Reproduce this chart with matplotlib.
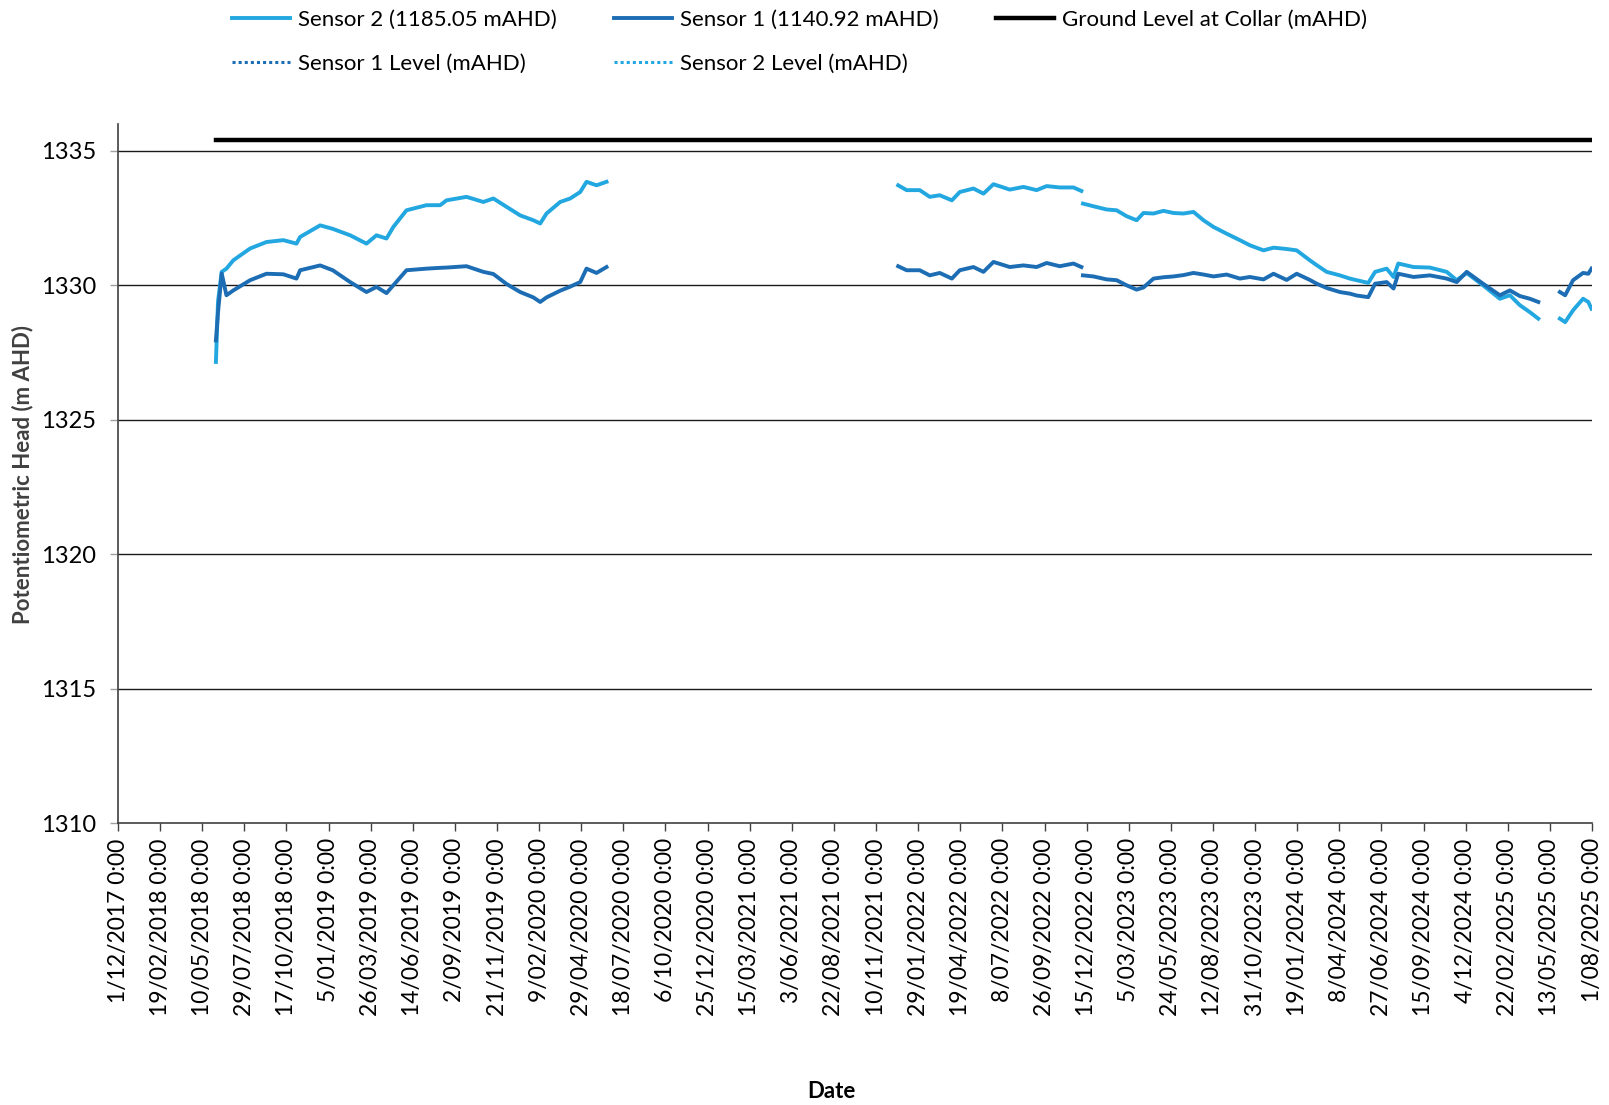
import matplotlib
matplotlib.use("Agg")
import matplotlib.pyplot as plt
import numpy as np
import pandas as pd

plt.rcParams['font.family'] = ['Lato', 'DejaVu Sans']

# ---- logger record (segments separated by data gaps) ----
dates_seg1 = ["2018-06-05", "2018-06-09", "2018-06-16", "2018-06-25", "2018-07-08",
              "2018-08-09", "2018-09-09", "2018-10-11", "2018-11-05", "2018-11-12",
              "2018-12-20", "2019-01-13", "2019-02-15", "2019-03-18", "2019-04-06",
              "2019-04-25", "2019-05-08", "2019-06-02", "2019-07-10", "2019-08-05",
              "2019-08-17", "2019-09-24", "2019-10-26", "2019-11-14", "2019-12-09",
              "2020-01-04", "2020-01-29", "2020-02-11", "2020-02-23", "2020-03-20",
              "2020-04-08", "2020-04-27", "2020-05-09", "2020-05-28", "2020-06-16"]
sensor2_seg1 = [1327.15, 1329.40, 1330.50, 1330.62, 1330.93,
                1331.37, 1331.61, 1331.68, 1331.55, 1331.80,
                1332.23, 1332.10, 1331.86, 1331.55, 1331.86,
                1331.74, 1332.17, 1332.79, 1332.98, 1332.98,
                1333.16, 1333.29, 1333.10, 1333.23, 1332.92,
                1332.60, 1332.42, 1332.30, 1332.67, 1333.10,
                1333.23, 1333.47, 1333.85, 1333.72, 1333.85]
sensor1_seg1 = [1327.95, 1329.00, 1330.44, 1329.63, 1329.81,
                1330.19, 1330.43, 1330.41, 1330.25, 1330.56,
                1330.74, 1330.56, 1330.12, 1329.75, 1329.94,
                1329.71, 1330.00, 1330.56, 1330.62, 1330.65,
                1330.66, 1330.71, 1330.50, 1330.42, 1330.05,
                1329.75, 1329.55, 1329.38, 1329.55, 1329.80,
                1329.95, 1330.12, 1330.62, 1330.46, 1330.68]

dates_seg2 = ["2021-12-22", "2022-01-07", "2022-02-01", "2022-02-20", "2022-03-11",
              "2022-04-03", "2022-04-18", "2022-05-14", "2022-06-02", "2022-06-21",
              "2022-07-22", "2022-08-17", "2022-09-11", "2022-09-30", "2022-10-25",
              "2022-11-20", "2022-12-05"]
sensor2_seg2 = [1333.72, 1333.54, 1333.54, 1333.29, 1333.35,
                1333.16, 1333.47, 1333.60, 1333.41, 1333.76,
                1333.56, 1333.66, 1333.54, 1333.69, 1333.64,
                1333.64, 1333.51]
sensor1_seg2 = [1330.71, 1330.56, 1330.56, 1330.37, 1330.46,
                1330.25, 1330.56, 1330.68, 1330.50, 1330.87,
                1330.68, 1330.74, 1330.68, 1330.83, 1330.71,
                1330.81, 1330.68]

dates_seg3 = ["2022-12-08", "2022-12-28", "2023-01-22", "2023-02-10", "2023-03-01",
              "2023-03-20", "2023-04-02", "2023-04-21", "2023-05-10", "2023-05-29",
              "2023-06-17", "2023-07-06", "2023-07-25", "2023-08-13", "2023-09-07",
              "2023-10-02", "2023-10-21", "2023-11-16", "2023-12-05", "2023-12-30",
              "2024-01-18", "2024-02-12", "2024-02-25", "2024-03-15", "2024-04-09",
              "2024-04-28", "2024-05-11", "2024-06-02", "2024-06-15", "2024-07-07",
              "2024-07-20", "2024-07-29", "2024-08-27", "2024-09-27", "2024-10-29",
              "2024-11-17", "2024-12-06", "2025-01-06", "2025-02-07", "2025-02-26",
              "2025-03-17", "2025-04-05", "2025-04-21"]
sensor2_seg3 = [1333.04, 1332.94, 1332.82, 1332.79, 1332.57,
                1332.42, 1332.69, 1332.67, 1332.77, 1332.69,
                1332.67, 1332.73, 1332.42, 1332.17, 1331.92,
                1331.68, 1331.49, 1331.30, 1331.40, 1331.35,
                1331.30, 1330.93, 1330.75, 1330.50, 1330.37,
                1330.25, 1330.19, 1330.09, 1330.50, 1330.62,
                1330.31, 1330.81, 1330.68, 1330.66, 1330.50,
                1330.19, 1330.46, 1330.00, 1329.50, 1329.63,
                1329.26, 1329.00, 1328.76]
sensor1_seg3 = [1330.37, 1330.33, 1330.22, 1330.19, 1330.00,
                1329.84, 1329.92, 1330.25, 1330.30, 1330.33,
                1330.38, 1330.46, 1330.40, 1330.33, 1330.40,
                1330.25, 1330.31, 1330.22, 1330.43, 1330.20,
                1330.43, 1330.20, 1330.06, 1329.90, 1329.75,
                1329.69, 1329.62, 1329.56, 1330.06, 1330.12,
                1329.88, 1330.43, 1330.31, 1330.37, 1330.25,
                1330.12, 1330.50, 1330.06, 1329.63, 1329.81,
                1329.60, 1329.50, 1329.38]

dates_seg4 = ["2025-06-01", "2025-06-11", "2025-06-26", "2025-07-15", "2025-07-25",
              "2025-07-31"]
sensor2_seg4 = [1328.76, 1328.63, 1329.07, 1329.50, 1329.38, 1329.13]
sensor1_seg4 = [1329.75, 1329.63, 1330.19, 1330.46, 1330.43, 1330.62]

# ground level at the collar and sensor install levels
ground_dates = ["2018-06-05", "2025-08-01"]
ground_level = [1335.40, 1335.40]
sensor1_level = 1140.92
sensor2_level = 1185.05

# axis ticks (every 80 days)
x_tick_labels = ["1/12/2017 0:00", "19/02/2018 0:00", "10/05/2018 0:00", "29/07/2018 0:00",
                 "17/10/2018 0:00", "5/01/2019 0:00", "26/03/2019 0:00", "14/06/2019 0:00",
                 "2/09/2019 0:00", "21/11/2019 0:00", "9/02/2020 0:00", "29/04/2020 0:00",
                 "18/07/2020 0:00", "6/10/2020 0:00", "25/12/2020 0:00", "15/03/2021 0:00",
                 "3/06/2021 0:00", "22/08/2021 0:00", "10/11/2021 0:00", "29/01/2022 0:00",
                 "19/04/2022 0:00", "8/07/2022 0:00", "26/09/2022 0:00", "15/12/2022 0:00",
                 "5/03/2023 0:00", "24/05/2023 0:00", "12/08/2023 0:00", "31/10/2023 0:00",
                 "19/01/2024 0:00", "8/04/2024 0:00", "27/06/2024 0:00", "15/09/2024 0:00",
                 "4/12/2024 0:00", "22/02/2025 0:00", "13/05/2025 0:00", "1/08/2025 0:00"]
y_ticks = [1310, 1315, 1320, 1325, 1330, 1335]

LIGHT = "#22a7e0"
DARK = "#1c6db4"

# stitch segments with NaN breaks so gaps stay open
def join(date_lists, value_lists):
    xs, ys = [], []
    for i, (d, v) in enumerate(zip(date_lists, value_lists)):
        if i:
            xs.append(pd.NaT)
            ys.append(np.nan)
        xs.extend(pd.to_datetime(d))
        ys.extend(v)
    return pd.to_datetime(pd.Series(xs)), np.array(ys, dtype=float)

all_dates = [dates_seg1, dates_seg2, dates_seg3, dates_seg4]
x2, y2 = join(all_dates, [sensor2_seg1, sensor2_seg2, sensor2_seg3, sensor2_seg4])
x1, y1 = join(all_dates, [sensor1_seg1, sensor1_seg2, sensor1_seg3, sensor1_seg4])
tick_dates = pd.to_datetime(x_tick_labels, format="%d/%m/%Y 0:00")

fig = plt.figure(figsize=(16.09, 11.05), dpi=100)
ax = fig.add_axes([118 / 1609, 1 - 823 / 1105, (1592 - 118) / 1609, (823 - 124) / 1105])

for yv in y_ticks[1:]:
    ax.axhline(yv, color="#1a1a1a", lw=1.0, zorder=1)

h2, = ax.plot(x2, y2, color=LIGHT, lw=2.8, zorder=3, label="Sensor 2 (1185.05 mAHD)")
h1, = ax.plot(x1, y1, color=DARK, lw=2.8, zorder=4, label="Sensor 1 (1140.92 mAHD)")
hg, = ax.plot(pd.to_datetime(ground_dates), ground_level, color="black", lw=3.2,
              zorder=5, label="Ground Level at Collar (mAHD)")
hs1, = ax.plot([tick_dates[0], tick_dates[-1]], [sensor1_level] * 2, color=DARK,
               lw=2.2, ls=(0, (1, 1)), label="Sensor 1 Level (mAHD)")
hs2, = ax.plot([tick_dates[0], tick_dates[-1]], [sensor2_level] * 2, color=LIGHT,
               lw=2.2, ls=(0, (1, 1)), label="Sensor 2 Level (mAHD)")

ax.set_xlim(tick_dates[0], tick_dates[-1])
ax.set_ylim(1310, 1336)
ax.set_xticks(tick_dates)
ax.set_xticklabels(x_tick_labels, rotation=90, fontsize=16.5)
ax.set_yticks(y_ticks)
ax.set_yticklabels([str(v) for v in y_ticks], fontsize=17)
ax.tick_params(axis="x", direction="out", length=6, width=1, color="#404040", pad=5)
ax.tick_params(axis="y", direction="out", length=6, width=1, color="#a0a0a0", pad=10)

for s in ("top", "right"):
    ax.spines[s].set_visible(False)
for s in ("left", "bottom"):
    ax.spines[s].set_color("#404040")
    ax.spines[s].set_linewidth(1.2)

fig.text(23 / 1609, 1 - 475 / 1105, "Potentiometric Head (m AHD)", fontsize=16,
         fontweight="bold", color="#404040", rotation=90, ha="center", va="center")
fig.text(831 / 1609, 1 - 1091 / 1105, "Date", fontsize=16, fontweight="bold",
         ha="center", va="center")

fig.legend(handles=[h2, hs1, h1, hs2, hg], loc="upper left",
           bbox_to_anchor=(232 / 1609, 1 - 10 / 1105), ncol=3, frameon=False,
           fontsize=16, handlelength=2.6, handletextpad=0.35, columnspacing=2.6,
           labelspacing=1.07, borderpad=0, borderaxespad=0)

fig.savefig("out.png", dpi=100, facecolor="white")
